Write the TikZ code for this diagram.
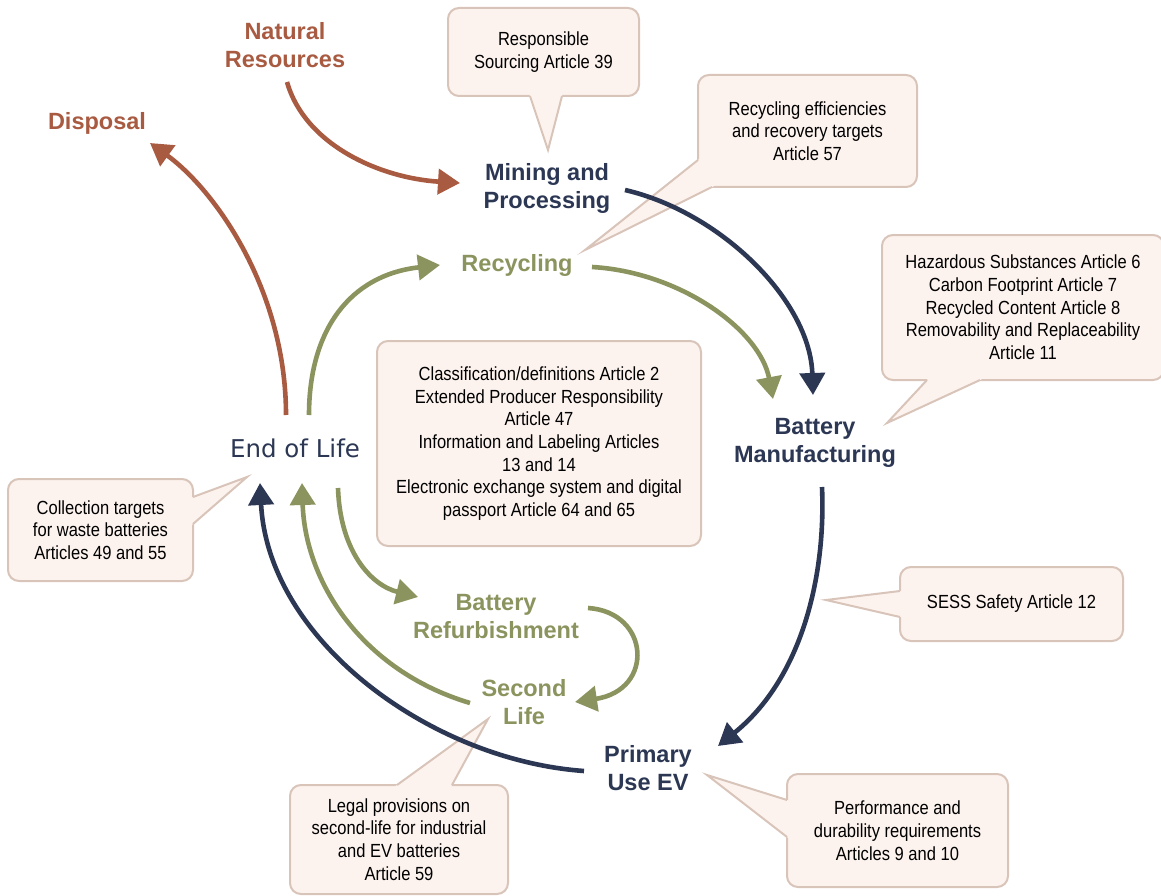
\documentclass[tikz,border=0pt]{standalone}
\usepackage{fontspec}
\setmainfont{Liberation Sans}
\newfontfamily\callfont[FakeStretch=0.87]{Liberation Sans}
\newfontfamily\eolfont{DejaVu Sans}
\usetikzlibrary{arrows.meta,calc}
\definecolor{navy}{HTML}{2C3754}
\definecolor{rust}{HTML}{A95B42}
\definecolor{olive}{HTML}{8B945E}
\definecolor{cfill}{HTML}{FDF3EE}
\definecolor{cdraw}{HTML}{D9C4BA}
\tikzset{
  box/.style={draw=cdraw, fill=cfill, line width=2pt, rounded corners=11pt,
    align=center, inner sep=0pt, font=\callfont\fontsize{19}{22.7}\selectfont},
  lab/.style={font=\bfseries\fontsize{23.5}{28}\selectfont, align=center, inner sep=0pt},
  flow/.style={line width=4.6pt, -{Triangle[length=22pt,width=25pt]}},
}
\newcommand\ptrcall[3]{%
  \fill[cfill] ($(#1)!-5pt!(#2)$) -- (#2) -- ($(#3)!-5pt!(#2)$) -- cycle;
  \draw[cdraw, line width=2pt, line join=miter] (#1) -- (#2) -- (#3);
}
\begin{document}
\begin{tikzpicture}[x=1pt,y=-1pt]
\useasboundingbox (0,0) rectangle (1161,896);
\clip (0,0) rectangle (1161,896);
\fill[white] (0,0) rectangle (1161,896);

% ---------- callouts ----------
\node[box, minimum width=191pt, minimum height=88pt] (c1) at (543.5,52)
  {Responsible\\Sourcing Article 39};
\coordinate (c1a) at (530,96); \coordinate (c1t) at (548,150); \coordinate (c1b) at (562,96);
\ptrcall{c1a}{c1t}{c1b}

\node[box, minimum width=219pt, minimum height=112pt] (c2) at (807.5,131)
  {Recycling efficiencies\\and recovery targets\\Article 57};
\coordinate (c2a) at (698,160); \coordinate (c2t) at (585,250); \coordinate (c2b) at (712,187);
\ptrcall{c2a}{c2t}{c2b}

\node[box, minimum width=282pt, minimum height=145pt] (c3) at (1023,307.5)
  {Hazardous Substances Article 6\\Carbon Footprint Article 7\\Recycled Content Article 8\\Removability and Replaceability\\Article 11};
\coordinate (c3a) at (927,380); \coordinate (c3t) at (887,423); \coordinate (c3b) at (980,380);
\ptrcall{c3a}{c3t}{c3b}

\node[box, minimum width=324pt, minimum height=205pt] (c4) at (539,443.5)
  {Classification/definitions Article 2\\Extended Producer Responsibility\\Article 47\\Information and Labeling Articles\\13 and 14\\Electronic exchange system and digital\\passport Article 64 and 65};

\node[box, minimum width=185pt, minimum height=102pt] (c5) at (100.5,530)
  {Collection targets\\for waste batteries\\Articles 49 and 55};
\coordinate (c5a) at (193,497); \coordinate (c5t) at (247,477); \coordinate (c5b) at (193,524);
\ptrcall{c5a}{c5t}{c5b}

\node[box, minimum width=223pt, minimum height=74pt] (c6) at (1011.5,604)
  {SESS Safety Article 12};
\coordinate (c6a) at (900,591); \coordinate (c6t) at (826,600); \coordinate (c6b) at (900,617);
\ptrcall{c6a}{c6t}{c6b}

\node[box, minimum width=218pt, minimum height=109pt] (c7) at (399,839.5)
  {Legal provisions on\\second-life for industrial\\and EV batteries\\Article 59};
\coordinate (c7a) at (397,785); \coordinate (c7t) at (488,719); \coordinate (c7b) at (452,785);
\ptrcall{c7a}{c7t}{c7b}

\node[box, minimum width=221pt, minimum height=113pt] (c8) at (897.5,830.5)
  {Performance and\\durability requirements\\Articles 9 and 10};
\coordinate (c8a) at (787,800); \coordinate (c8t) at (707,775); \coordinate (c8b) at (787,837);
\ptrcall{c8a}{c8t}{c8b}

% ---------- stage labels ----------
\node[lab, rust] (nat) at (285,45) {Natural\\Resources};
\node[lab, rust] (disp) at (97,123) {Disposal};
\node[lab, navy] (mine) at (547,188) {Mining and\\Processing};
\node[lab, olive] (recy) at (517,265) {Recycling};
\node[lab, navy] (bm) at (815,443) {Battery\\Manufacturing};
\node[font=\eolfont\fontsize{24.5}{28}\selectfont, text=navy, inner sep=0pt] (eol) at (295,448) {End of Life};
\node[lab, olive] (refurb) at (496,617) {Battery\\Refurbishment};
\node[lab, olive] (second) at (524,702) {Second\\Life};
\node[lab, navy] (prim) at (648,768) {Primary\\Use EV};

% ---------- connector end points ----------
\coordinate (natS) at (287,82);   \coordinate (mineW) at (460,183);
\coordinate (eolR) at (286,415);  \coordinate (dispT) at (150,143);
\coordinate (mineE) at (625,190); \coordinate (bmN1) at (813,395);
\coordinate (recyE) at (592,267); \coordinate (bmN2) at (773,399);
\coordinate (eolG) at (309,415);  \coordinate (recyW) at (440,265);
\coordinate (eolS) at (338,488);  \coordinate (refW) at (418,597);
\coordinate (refE) at (588,608);  \coordinate (secE) at (575,702);
\coordinate (secW) at (470,703);  \coordinate (eolS2) at (302,483);
\coordinate (primW) at (584,771); \coordinate (eolS1) at (260,483);
\coordinate (bmS) at (822,487);   \coordinate (primN) at (718,746);

% ---------- connectors ----------
\draw[flow, rust] (natS) .. controls (305,145) and (380,178) .. (mineW);
\draw[flow, rust] (eolR) .. controls (286,290) and (215,190) .. (dispT);
\draw[flow, navy] (mineE) .. controls (720,212) and (810,300) .. (bmN1);
\draw[flow, olive] (recyE) .. controls (680,272) and (760,330) .. (bmN2);
\draw[flow, olive] (eolG) .. controls (309,330) and (350,275) .. (recyW);
\draw[flow, olive] (eolS) .. controls (340,550) and (370,585) .. (refW);
\draw[flow, olive] (refE) .. controls (650,612) and (655,690) .. (secE);
\draw[flow, olive] (secW) .. controls (360,670) and (305,580) .. (eolS2);
\draw[flow, navy] (primW) .. controls (430,760) and (268,640) .. (eolS1);
\draw[flow, navy] (bmS) .. controls (826,580) and (800,680) .. (primN);
\end{tikzpicture}
\end{document}
